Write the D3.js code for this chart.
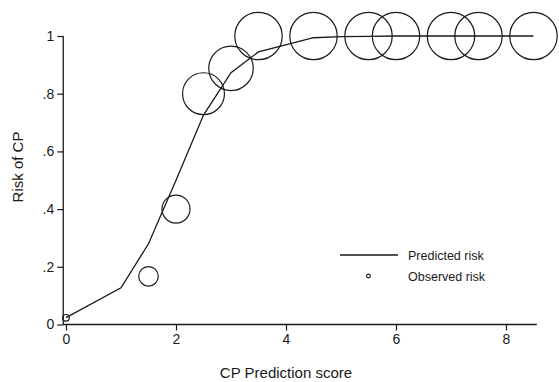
<!DOCTYPE html>
<style>
body { margin: 0; background: #fff; }
svg { font-family: "Liberation Sans", Arial, sans-serif; }
</style>
<svg width="559" height="382"></svg>
<script src="https://d3js.org/d3.v7.min.js"></script>
<script>

// predicted risk (line)
var predScore = [0, 1, 1.5, 2, 2.5, 3, 3.5, 4.5, 5, 5.5, 6, 7, 7.5, 8.5],
    predRisk  = [0.024, 0.127, 0.28, 0.50, 0.726, 0.873, 0.945, 0.994, 0.998, 0.999, 1, 1, 1, 1];

// observed risk (circles, sized by weight)
var obsScore = [0, 1.5, 2, 2.5, 3, 3.5, 4.5, 5.5, 6, 7, 7.5, 8.5],
    obsRisk  = [0.023, 0.167, 0.40, 0.80, 0.888, 1, 1, 1, 1, 1, 1, 1],
    obsN     = [2, 17, 35, 78, 88, 100, 100, 100, 100, 100, 100, 100];

var xTicks = [0, 2, 4, 6, 8],
    yTicks = [0, 0.2, 0.4, 0.6, 0.8, 1];

var svg = d3.select("svg"),
    ink = "#1a1a1a";

var x = d3.scaleLinear().domain([0, 8.5]).range([66, 533.5]),
    y = d3.scaleLinear().domain([0, 1]).range([324.5, 36]),
    r = d3.scaleSqrt().domain([0, 100]).range([0, 23.7]);

var fmt = function(d) { return d === 0 ? "0" : d === 1 ? "1" : d3.format(".1f")(d).replace(/^0/, ""); };

// axes
var gx = svg.append("g")
    .attr("transform", "translate(0," + y(0) + ")")
    .call(d3.axisBottom(x).tickValues(xTicks).tickSize(6).tickSizeOuter(0).tickPadding(4));
gx.select(".domain").remove();
gx.append("line")
    .attr("x1", x(-0.05)).attr("x2", x(8.56))
    .attr("stroke", ink).attr("stroke-width", 1.3);

var gy = svg.append("g")
    .attr("transform", "translate(" + x(-0.05) + ",0)")
    .call(d3.axisLeft(y).tickValues(yTicks).tickFormat(fmt).tickSize(6).tickSizeOuter(0).tickPadding(3));
gy.select(".domain").remove();
gy.append("line")
    .attr("y1", y(1)).attr("y2", y(0) + 0.5)
    .attr("stroke", ink).attr("stroke-width", 1.3);

svg.selectAll(".tick line").attr("stroke", ink).attr("stroke-width", 1.2);
svg.selectAll(".tick text").attr("fill", ink).style("font-size", "14px").style("font-family", "'Liberation Sans', Arial, sans-serif");

// axis titles
svg.append("text")
    .attr("x", 286).attr("y", 378)
    .attr("text-anchor", "middle")
    .attr("fill", ink)
    .style("font-size", "15px")
    .text("CP Prediction score");

svg.append("text")
    .attr("transform", "translate(23,167) rotate(-90)")
    .attr("text-anchor", "middle")
    .attr("fill", ink)
    .style("font-size", "15px")
    .text("Risk of CP");

// predicted line
var line = d3.line()
    .x(function(d) { return x(d[0]); })
    .y(function(d) { return y(d[1]); });

svg.append("path")
    .datum(d3.zip(predScore, predRisk))
    .attr("d", line)
    .attr("fill", "none")
    .attr("stroke", ink)
    .attr("stroke-width", 1.3);

// observed circles
svg.selectAll(".obs")
  .data(d3.zip(obsScore, obsRisk, obsN))
  .enter().append("circle")
    .attr("class", "obs")
    .attr("cx", function(d) { return x(d[0]); })
    .attr("cy", function(d) { return y(d[1]); })
    .attr("r", function(d) { return r(d[2]); })
    .attr("fill", "none")
    .attr("stroke", ink)
    .attr("stroke-width", 1.2);

// legend
var legend = svg.append("g").style("font-size", "12.5px").attr("fill", ink);

legend.append("line")
    .attr("x1", 340).attr("x2", 398).attr("y1", 255).attr("y2", 255)
    .attr("stroke", ink).attr("stroke-width", 1.3);
legend.append("text").attr("x", 408).attr("y", 259.5).text("Predicted risk");

legend.append("circle")
    .attr("cx", 368.5).attr("cy", 276).attr("r", 1.9)
    .attr("fill", "none").attr("stroke", ink).attr("stroke-width", 1.1);
legend.append("text").attr("x", 408).attr("y", 280.5).text("Observed risk");

</script>
